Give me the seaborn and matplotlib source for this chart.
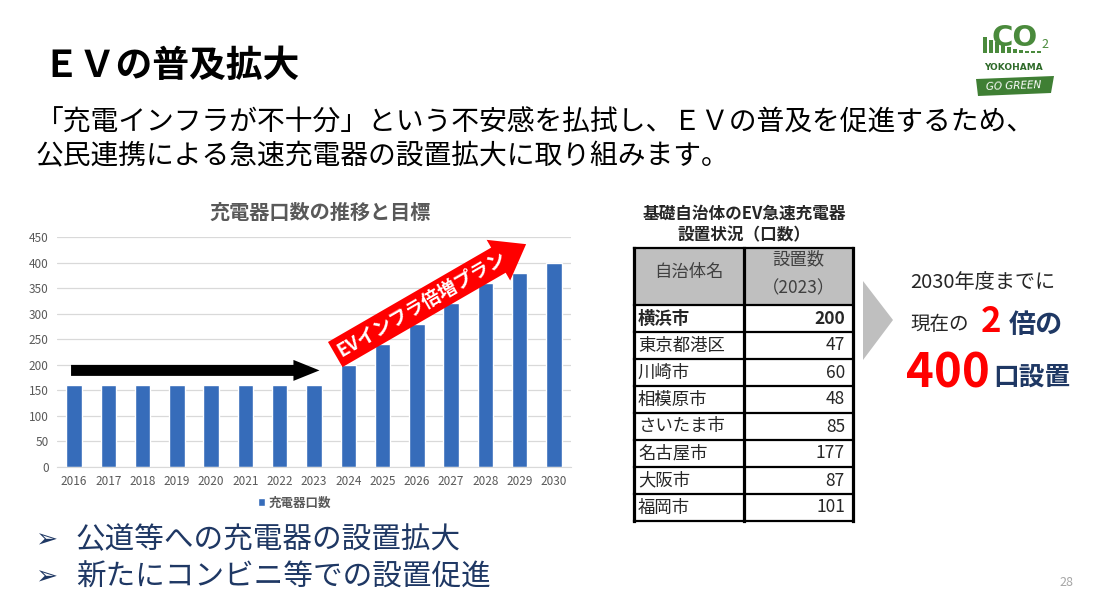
import matplotlib
matplotlib.use("Agg")
import numpy as np
import pandas as pd
import matplotlib.pyplot as plt
import seaborn as sns
from matplotlib.patches import FancyArrow, Rectangle, Polygon

# データ
years = [str(y) for y in range(2016, 2031)]
chargers = [160, 160, 160, 160, 160, 160, 160, 160, 200, 240, 280, 320, 360, 380, 400]
y_ticks = [0, 50, 100, 150, 200, 250, 300, 350, 400, 450]
cities = ['横浜市', '東京都港区', '川崎市', '相模原市', 'さいたま市', '名古屋市', '大阪市', '福岡市']
counts_2023 = [200, 47, 60, 48, 85, 177, 87, 101]

BLUE = '#366CBA'
NAVY = '#1F3864'
GRAY_TXT = '#595959'

sns.set_style('white')
plt.rcParams['font.family'] = ['Noto Sans CJK JP', 'DejaVu Sans']

W, H = 1094, 611
fig = plt.figure(figsize=(W / 100, H / 100), dpi=100)

# 1. 棒グラフ
ax = fig.add_axes([57 / W, 1 - 467 / H, 514 / W, 230 / H])
df = pd.DataFrame({'年': years, '充電器口数': chargers})
sns.barplot(data=df, x='年', y='充電器口数', color=BLUE, saturation=1,
            width=0.45, label='充電器口数', ax=ax, zorder=2)
ax.set_xlim(-0.5, len(years) - 0.5)
ax.set_ylim(0, 450)
ax.set_yticks(y_ticks)
ax.set_xlabel('')
ax.set_ylabel('')
ax.grid(axis='y', color='#D9D9D9', lw=0.9, zorder=0)
for s in ['top', 'right', 'left']:
    ax.spines[s].set_visible(False)
ax.spines['bottom'].set_color('#D9D9D9')
ax.tick_params(length=0, labelsize=8.5, labelcolor=GRAY_TXT, pad=6)
ax.text(0.512, 1.109, '充電器口数の推移と目標', transform=ax.transAxes,
        ha='center', va='center', fontsize=14.5, fontweight='bold', color=GRAY_TXT)
leg = ax.legend(loc='center', bbox_to_anchor=(0.462, -0.157), frameon=False,
                handlelength=0.6, handleheight=0.6, handletextpad=0.3,
                prop={'size': 9, 'weight': 'bold'})
for t in leg.get_texts():
    t.set_color(GRAY_TXT)

# 黒矢印（現状）
ax.add_patch(FancyArrow(-0.09, 189, 7.25, 0, width=21.5, head_width=41,
                        head_length=0.76, length_includes_head=True,
                        color='black', lw=0, zorder=4))

# 2. スライド全体（ピクセル座標のオーバーレイ）
ov = fig.add_axes([0, 0, 1, 1], zorder=3)
ov.set_xlim(0, W)
ov.set_ylim(H, 0)
ov.axis('off')


def to_px(pt):
    return ov.transData.inverted().transform(ax.transData.transform(pt))


# 赤矢印（倍増プラン）
t0 = to_px((7.62, 220))
t1 = to_px((13.19, 436))
d = t1 - t0
ov.add_patch(FancyArrow(t0[0], t0[1], d[0], d[1], width=29, head_width=47,
                        head_length=32, length_includes_head=True,
                        color='#FF0000', lw=0, zorder=5))
ang = np.degrees(np.arctan2(-d[1], d[0]))
tc = t0 + 0.455 * d
ov.text(tc[0], tc[1], 'EVインフラ倍増プラン', rotation=ang, rotation_mode='anchor',
        ha='center', va='center', color='white', fontsize=13.5,
        fontweight='bold', zorder=6)

# タイトル・本文
ov.text(42, 67, 'ＥＶの普及拡大', fontsize=26.5, fontweight='bold',
        ha='left', va='center', color='black')
ov.text(36, 123, '「充電インフラが不十分」という不安感を払拭し、ＥＶの普及を促進するため、',
        fontsize=20, ha='left', va='center', color='black')
ov.text(36, 156, '公民連携による急速充電器の設置拡大に取り組みます。',
        fontsize=20, ha='left', va='center', color='black')

# 箇条書き
for yy, txt in [(540, '公道等への充電器の設置拡大'), (577, '新たにコンビニ等での設置促進')]:
    ov.text(35, yy, '➢', family=['DejaVu Sans'], fontsize=19, color=NAVY,
            ha='left', va='center')
    ov.text(76, yy, txt, fontsize=21.3, color=NAVY, ha='left', va='center')

ov.text(1066, 582, '28', fontsize=9, color='#A6A6A6', ha='center', va='center')

# 3. 表
ov.text(744, 214, '基礎自治体のEV急速充電器', fontsize=12, fontweight='bold',
        ha='center', va='center')
ov.text(744, 235, '設置状況（口数）', fontsize=12, fontweight='bold',
        ha='center', va='center')
x0, x1, x2 = 634, 744, 853
top, hdr, row_h = 248, 305, 27
bottom = hdr + row_h * len(cities)
ov.add_patch(Rectangle((x0, top), x2 - x0, hdr - top, fc='#BFBFBF', ec='none'))
ov.text((x0 + x1) / 2, 272, '自治体名', fontsize=12.5, color='#404040',
        ha='center', va='center')
ov.text((x1 + x2) / 2, 259, '設置数', fontsize=12.5, color='#404040',
        ha='center', va='center')
ov.text((x1 + x2) / 2, 288, '（2023）', fontsize=12.5, color='#404040',
        ha='center', va='center')
for i, (c, n) in enumerate(zip(cities, counts_2023)):
    yc = hdr + row_h * (i + 0.5)
    w = 'bold' if i == 0 else 'normal'
    ov.text(x0 + 4, yc, c, fontsize=12.5, fontweight=w, ha='left', va='center')
    ov.text(x2 - 8, yc, str(n), fontsize=12.5, fontweight=w, ha='right', va='center')
for yy in [top, hdr] + [hdr + row_h * (i + 1) for i in range(len(cities))]:
    ov.plot([x0, x2], [yy, yy], color='black', lw=1.6, solid_capstyle='projecting')
for xx in [x0, x1, x2]:
    ov.plot([xx, xx], [top, bottom], color='black', lw=2.3, solid_capstyle='projecting')

# 灰色の三角
ov.add_patch(Polygon([(863, 281), (893, 320), (863, 360)], closed=True,
                     fc='#BFBFBF', ec='none'))

# 右側の目標テキスト
ov.text(910, 283, '2030年度までに', fontsize=14.5, ha='left', va='center')
ov.text(910, 325, '現在の', fontsize=14, ha='left', va='center')
ov.text(981, 321, '2', fontsize=25, fontweight='bold', color='#FF0000',
        ha='left', va='center')
ov.text(1009, 325, '倍の', fontsize=19.5, fontweight='bold', color=NAVY,
        ha='left', va='center')
ov.text(906, 373, '400', fontsize=34, fontweight='bold', color='#FF0000',
        ha='left', va='center')
ov.text(993, 377, '口設置', fontsize=18.5, fontweight='bold', color=NAVY,
        ha='left', va='center')

# ロゴ（CO2 YOKOHAMA GO GREEN）
GREEN = '#4A8A3C'
for i, bh in enumerate([16, 13, 11, 9, 6, 4, 3, 2, 2, 2]):
    bx = 983 + i * 6
    ov.add_patch(Rectangle((bx, 53 - bh), 3.5, bh, fc=GREEN, ec='none', zorder=3))
ov.text(1015, 38, 'CO', fontsize=21, fontweight='bold', color=GREEN,
        family=['DejaVu Sans'], ha='center', va='center', zorder=2)
ov.text(1045, 45, '2', fontsize=9, color=GREEN, ha='center', va='center')
ov.text(1013, 68, 'YOKOHAMA', fontsize=6.5, color='#2F6B2A', ha='center',
        va='center', family=['DejaVu Sans'], fontweight='bold')
ov.add_patch(Polygon([(976, 79), (1054, 76), (1051, 93), (978, 96)], closed=True,
                     fc='#3F7F34', ec='none'))
ov.text(1014, 86, 'GO GREEN', fontsize=7.5, color='white', style='italic',
        ha='center', va='center', family=['DejaVu Sans'], rotation=2)

fig.savefig('out.png', dpi=100, facecolor='white')
